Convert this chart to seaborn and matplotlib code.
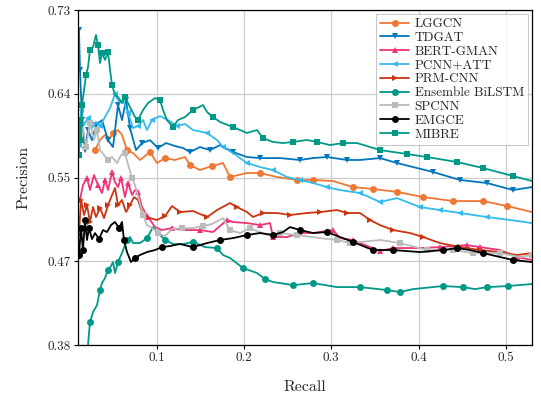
import matplotlib
matplotlib.use("Agg")
import matplotlib.pyplot as plt
import seaborn as sns
import pandas as pd

# ---------------- data ----------------
series_names = ["LGGCN", "TDGAT", "BERT-GMAN", "PCNN+ATT", "PRM-CNN",
                "Ensemble BiLSTM", "SPCNN", "EMGCE", "MIBRE"]

lggcn_recall = [0.0295, 0.0352, 0.0409, 0.0467, 0.0501, 0.0558, 0.0604, 0.0661, 0.0730, 0.0810,
                0.0925, 0.1005, 0.1097, 0.1211, 0.1326, 0.1383, 0.1497, 0.1635, 0.1761, 0.1841,
                0.2036, 0.2185, 0.2380, 0.2609, 0.2792, 0.3021, 0.3250, 0.3479, 0.3754, 0.4052,
                0.4396, 0.4739, 0.5014, 0.5300]
lggcn_precision = [0.5837, 0.5942, 0.5994, 0.5962, 0.6015, 0.6046, 0.5994, 0.5837, 0.5806, 0.5733,
                   0.5816, 0.5701, 0.5753, 0.5733, 0.5764, 0.5680, 0.5628, 0.5670, 0.5701, 0.5555,
                   0.5597, 0.5597, 0.5555, 0.5524, 0.5524, 0.5513, 0.5450, 0.5430, 0.5400, 0.5346,
                   0.5304, 0.5304, 0.5252, 0.5189]

tdgat_recall = [0.0111, 0.0123, 0.0146, 0.0180, 0.0215, 0.0260, 0.0306, 0.0375, 0.0444, 0.0501,
                0.0558, 0.0604, 0.0650, 0.0696, 0.0764, 0.0833, 0.0925, 0.1016, 0.1108, 0.1211,
                0.1303, 0.1383, 0.1497, 0.1612, 0.1727, 0.1875, 0.2036, 0.2185, 0.2414, 0.2643,
                0.2792, 0.2952, 0.3181, 0.3330, 0.3559, 0.3754, 0.3983, 0.4167, 0.4476, 0.4785,
                0.5083, 0.5300]
tdgat_precision = [0.7090, 0.6670, 0.6150, 0.5837, 0.6046, 0.5940, 0.6098, 0.6150, 0.5940, 0.5868,
                   0.6307, 0.6150, 0.6360, 0.6067, 0.5837, 0.5910, 0.5940, 0.5858, 0.5910, 0.5879,
                   0.5858, 0.5816, 0.5868, 0.5837, 0.5889, 0.5816, 0.5764, 0.5753, 0.5753, 0.5733,
                   0.5753, 0.5764, 0.5733, 0.5733, 0.5753, 0.5701, 0.5649, 0.5607, 0.5524, 0.5492,
                   0.5419, 0.5450]

bert_recall = [0.0123, 0.0157, 0.0203, 0.0237, 0.0283, 0.0329, 0.0375, 0.0409, 0.0444, 0.0490,
               0.0524, 0.0558, 0.0593, 0.0638, 0.0673, 0.0719, 0.0753, 0.0787, 0.0833, 0.0902,
               0.0982, 0.1062, 0.1177, 0.1291, 0.1497, 0.1646, 0.1807, 0.1875, 0.2036, 0.2185,
               0.2299, 0.2334, 0.2494, 0.2643, 0.2792, 0.3021, 0.3101, 0.3250, 0.3388, 0.3559,
               0.3708, 0.4018, 0.4247, 0.4556, 0.4705, 0.4934, 0.5129, 0.5300]
bert_precision = [0.5315, 0.5471, 0.5544, 0.5420, 0.5576, 0.5471, 0.5388, 0.5524, 0.5420, 0.5607,
                  0.5503, 0.5450, 0.5544, 0.5346, 0.5492, 0.5367, 0.5420, 0.5400, 0.5241, 0.5137,
                  0.5033, 0.5001, 0.5022, 0.5001, 0.5001, 0.4980, 0.5106, 0.5085, 0.5074, 0.5053,
                  0.5074, 0.4928, 0.4928, 0.4970, 0.4970, 0.5001, 0.4917, 0.4897, 0.4844, 0.4782,
                  0.4813, 0.4813, 0.4823, 0.4844, 0.4823, 0.4792, 0.4719, 0.4688]

pcnn_recall = [0.0111, 0.0134, 0.0169, 0.0215, 0.0260, 0.0306, 0.0352, 0.0409, 0.0467, 0.0524,
               0.0570, 0.0615, 0.0673, 0.0730, 0.0787, 0.0845, 0.0890, 0.0948, 0.1039, 0.1131,
               0.1234, 0.1326, 0.1417, 0.1578, 0.1692, 0.1761, 0.1875, 0.2036, 0.2185, 0.2334,
               0.2494, 0.2643, 0.2792, 0.2952, 0.3101, 0.3330, 0.3559, 0.3754, 0.4018, 0.4247,
               0.4476, 0.4785, 0.5048, 0.5300]
pcnn_precision = [0.5890, 0.6255, 0.6098, 0.6171, 0.6067, 0.6130, 0.6088, 0.6182, 0.6276, 0.6422,
                  0.6339, 0.6360, 0.6224, 0.6067, 0.6088, 0.6150, 0.6046, 0.6150, 0.6192, 0.6150,
                  0.6088, 0.6109, 0.6046, 0.6015, 0.5942, 0.5868, 0.5806, 0.5701, 0.5659, 0.5628,
                  0.5555, 0.5524, 0.5492, 0.5450, 0.5419, 0.5388, 0.5294, 0.5335, 0.5241, 0.5210,
                  0.5179, 0.5137, 0.5106, 0.5074]

prm_recall = [0.0111, 0.0134, 0.0169, 0.0203, 0.0237, 0.0272, 0.0306, 0.0352, 0.0398, 0.0444,
              0.0490, 0.0524, 0.0558, 0.0604, 0.0650, 0.0696, 0.0741, 0.0787, 0.0845, 0.0925,
              0.1005, 0.1097, 0.1177, 0.1268, 0.1417, 0.1578, 0.1692, 0.1841, 0.1921, 0.2036,
              0.2105, 0.2219, 0.2380, 0.2528, 0.2723, 0.2872, 0.3067, 0.3181, 0.3330, 0.3445,
              0.3559, 0.3708, 0.3903, 0.4052, 0.4247, 0.4476, 0.4705, 0.4934, 0.5129, 0.5300]
prm_precision = [0.4949, 0.5315, 0.5158, 0.5262, 0.5085, 0.5241, 0.5137, 0.5231, 0.5126, 0.5262,
                 0.5367, 0.5440, 0.5262, 0.5315, 0.5189, 0.5262, 0.5346, 0.5315, 0.5158, 0.5126,
                 0.5106, 0.5147, 0.5252, 0.5189, 0.5200, 0.5137, 0.5210, 0.5283, 0.5241, 0.5189,
                 0.5137, 0.5179, 0.5179, 0.5158, 0.5179, 0.5189, 0.5210, 0.5179, 0.5179, 0.5106,
                 0.5053, 0.5001, 0.4970, 0.4928, 0.4865, 0.4823, 0.4792, 0.4771, 0.4740, 0.4761]

ens_recall = [0.0210, 0.0237, 0.0272, 0.0318, 0.0352, 0.0375, 0.0409, 0.0444, 0.0478, 0.0501,
              0.0524, 0.0558, 0.0604, 0.0661, 0.0696, 0.0730, 0.0810, 0.0890, 0.0959, 0.1016,
              0.1097, 0.1188, 0.1303, 0.1417, 0.1555, 0.1692, 0.1761, 0.1841, 0.1990, 0.2150,
              0.2242, 0.2334, 0.2563, 0.2792, 0.3067, 0.3330, 0.3640, 0.3788, 0.3937, 0.4281,
              0.4510, 0.4648, 0.4785, 0.5026, 0.5300]
ens_precision = [0.3750, 0.4040, 0.4144, 0.4217, 0.4374, 0.4447, 0.4499, 0.4583, 0.4625, 0.4667,
                 0.4552, 0.4667, 0.4761, 0.4897, 0.4928, 0.4865, 0.4865, 0.4917, 0.5032, 0.4970,
                 0.4897, 0.4855, 0.4855, 0.4876, 0.4823, 0.4813, 0.4740, 0.4709, 0.4604, 0.4552,
                 0.4489, 0.4458, 0.4426, 0.4447, 0.4405, 0.4405, 0.4374, 0.4353, 0.4384, 0.4416,
                 0.4405, 0.4384, 0.4405, 0.4416, 0.4437]

spcnn_recall = [0.0123, 0.0157, 0.0192, 0.0237, 0.0283, 0.0318, 0.0352, 0.0398, 0.0444, 0.0490,
                0.0547, 0.0593, 0.0638, 0.0684, 0.0719, 0.0753, 0.0799, 0.0845, 0.0890, 0.0948,
                0.1016, 0.1097, 0.1177, 0.1291, 0.1417, 0.1532, 0.1635, 0.1761, 0.1841, 0.1956,
                0.2070, 0.2265, 0.2414, 0.2609, 0.2872, 0.3067, 0.3216, 0.3559, 0.3788, 0.4098,
                0.4396, 0.4625, 0.4934, 0.5163, 0.5300]
spcnn_precision = [0.5994, 0.6078, 0.5868, 0.6119, 0.5942, 0.6046, 0.5837, 0.5785, 0.5733, 0.5764,
                   0.5701, 0.5785, 0.5806, 0.5649, 0.5544, 0.5471, 0.5315, 0.5158, 0.5053, 0.5022,
                   0.4970, 0.4938, 0.5011, 0.5022, 0.5022, 0.5043, 0.5064, 0.5126, 0.5001, 0.4970,
                   0.5022, 0.4949, 0.4970, 0.4949, 0.4917, 0.4897, 0.4865, 0.4897, 0.4865, 0.4792,
                   0.4792, 0.4761, 0.4761, 0.4719, 0.4740]

emgce_recall = [0.0111, 0.0134, 0.0157, 0.0180, 0.0203, 0.0226, 0.0260, 0.0295, 0.0341, 0.0386,
                0.0432, 0.0478, 0.0524, 0.0570, 0.0604, 0.0627, 0.0661, 0.0707, 0.0753, 0.0810,
                0.0890, 0.0982, 0.1062, 0.1154, 0.1268, 0.1417, 0.1578, 0.1727, 0.1875, 0.2036,
                0.2185, 0.2334, 0.2448, 0.2528, 0.2643, 0.2792, 0.2952, 0.3101, 0.3250, 0.3479,
                0.3708, 0.4018, 0.4281, 0.4441, 0.4590, 0.4739, 0.4934, 0.5083, 0.5300]
emgce_precision = [0.4740, 0.5022, 0.4790, 0.5106, 0.4897, 0.5022, 0.4907, 0.4969, 0.4907, 0.5001,
                   0.4980, 0.5053, 0.5085, 0.5022, 0.5085, 0.4897, 0.4771, 0.4667, 0.4709, 0.4740,
                   0.4771, 0.4792, 0.4823, 0.4834, 0.4855, 0.4823, 0.4865, 0.4897, 0.4917, 0.4949,
                   0.4970, 0.4949, 0.4980, 0.5032, 0.5001, 0.4970, 0.4980, 0.4928, 0.4876, 0.4792,
                   0.4792, 0.4771, 0.4792, 0.4813, 0.4792, 0.4761, 0.4719, 0.4688, 0.4667]

mibre_recall = [0.0111, 0.0123, 0.0134, 0.0146, 0.0169, 0.0192, 0.0215, 0.0237, 0.0272, 0.0306,
                0.0329, 0.0352, 0.0375, 0.0409, 0.0444, 0.0467, 0.0490, 0.0524, 0.0558, 0.0604,
                0.0638, 0.0696, 0.0753, 0.0787, 0.0845, 0.0902, 0.0982, 0.1039, 0.1074, 0.1119,
                0.1188, 0.1245, 0.1326, 0.1417, 0.1532, 0.1578, 0.1646, 0.1727, 0.1875, 0.2036,
                0.2150, 0.2219, 0.2334, 0.2448, 0.2563, 0.2723, 0.2838, 0.2987, 0.3135, 0.3296,
                0.3559, 0.3869, 0.4098, 0.4441, 0.4739, 0.5083, 0.5300]
mibre_precision = [0.5785, 0.6150, 0.5942, 0.6307, 0.6464, 0.6621, 0.6704, 0.6882, 0.6913, 0.7039,
                   0.6934, 0.6746, 0.6851, 0.6778, 0.6861, 0.6673, 0.6516, 0.6412, 0.6391, 0.6328,
                   0.6391, 0.6286, 0.6182, 0.6150, 0.6255, 0.6328, 0.6380, 0.6360, 0.6255, 0.6150,
                   0.6077, 0.6150, 0.6182, 0.6255, 0.6307, 0.6234, 0.6182, 0.6130, 0.6077, 0.6015,
                   0.6046, 0.5962, 0.5921, 0.5910, 0.5921, 0.5942, 0.5921, 0.5889, 0.5910, 0.5910,
                   0.5837, 0.5795, 0.5764, 0.5712, 0.5649, 0.5565, 0.5513]

y_tick_labels = ["0.38", "0.47", "0.55", "0.64", "0.73"]
x_tick_labels = ["0.1", "0.2", "0.3", "0.4", "0.5"]

# ---------------- styling ----------------
sns.set_theme(style="whitegrid")
plt.rcParams["font.family"] = ["cmr10", "DejaVu Serif"]
plt.rcParams["axes.formatter.use_mathtext"] = True
plt.rcParams["mathtext.fontset"] = "cm"

colors = ["#EE7733", "#0077BB", "#EE3377", "#33BBEE", "#CC3311",
          "#009988", "#BBBBBB", "#000000", "#009988"]
markers = ["o", "v", "^", "<", ">", "o", "s", "o", "s"]

recalls = [lggcn_recall, tdgat_recall, bert_recall, pcnn_recall, prm_recall,
           ens_recall, spcnn_recall, emgce_recall, mibre_recall]
precisions = [lggcn_precision, tdgat_precision, bert_precision, pcnn_precision, prm_precision,
              ens_precision, spcnn_precision, emgce_precision, mibre_precision]

fig = plt.figure(figsize=(5.41, 3.94), dpi=100)
ax = fig.add_axes([78 / 541, 1 - 345 / 394, (532 - 78) / 541, (345 - 10) / 394])

for name, rec, prec, col, mk in zip(series_names, recalls, precisions, colors, markers):
    df = pd.DataFrame({"Recall": rec, "Precision": prec})
    sns.lineplot(data=df, x="Recall", y="Precision", ax=ax, sort=False, estimator=None,
                 color=col, marker=mk, markersize=5, markeredgewidth=0,
                 markevery=0.05, linewidth=1.3, label=name)

ax.set_xlim(0.01, 0.53)
ax.set_ylim(0.38, 0.73)
ax.set_xticks([0.1, 0.2, 0.3, 0.4, 0.5])
ax.set_xticklabels(x_tick_labels)
ax.set_yticks([0.38, 0.4675, 0.555, 0.6425, 0.73])
ax.set_yticklabels(y_tick_labels)
ax.tick_params(axis="both", labelsize=9.5, length=3, width=0.8, color="black",
               direction="out", bottom=True, left=True, pad=2)
ax.grid(True, color="#cccccc", linewidth=0.9)
for sp in ax.spines.values():
    sp.set_color("black")
    sp.set_linewidth(0.9)

ax.set_xlabel("Recall", fontsize=11.5, labelpad=12)
ax.set_ylabel("Precision", fontsize=11.5, labelpad=12)

leg = ax.legend(loc="upper right", fontsize=9.5, frameon=True, fancybox=False,
                handlelength=2.2, labelspacing=0.12, borderpad=0.3, handletextpad=0.4,
                borderaxespad=0.3)
leg.get_frame().set_edgecolor("#bbbbbb")
leg.get_frame().set_linewidth(0.8)

fig.savefig("out.png", dpi=100)
